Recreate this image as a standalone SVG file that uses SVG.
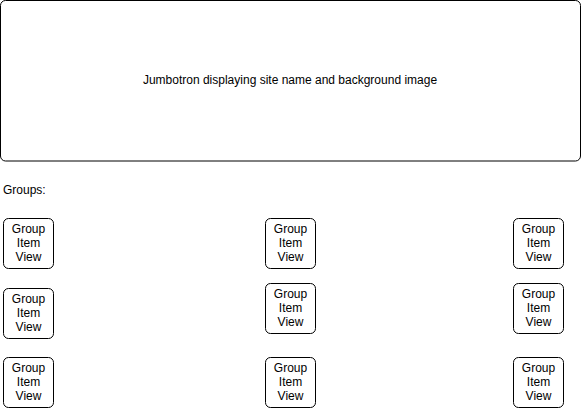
<svg xmlns="http://www.w3.org/2000/svg" width="581" height="408" viewBox="0 0 581 408">
<style>
.box{fill:#fff;stroke:#000;stroke-width:1}
text{font-family:Helvetica,"Liberation Sans",Arial,sans-serif;font-size:12px;fill:#000}
.c{text-anchor:middle}
</style>
<rect width="581" height="408" fill="#fff"/>
<g id="jumbotron">
<rect class="box" x="0.5" y="0.5" width="580" height="160.5" rx="5" ry="5"/>
<text class="c" x="290" y="84">Jumbotron displaying site name and background image</text>
</g>
<g id="groups-label"><text x="3" y="194">Groups:</text></g>
<defs>
<g id="item">
<rect class="box" x="0.5" y="0.5" width="50" height="50" rx="5" ry="5"/>
<text class="c" x="25.5" y="15">Group</text>
<text class="c" x="25.5" y="29">Item</text>
<text class="c" x="25.5" y="43">View</text>
</g>
</defs>
<g id="item-1-1"><use href="#item" x="3" y="218"/></g>
<g id="item-1-2"><use href="#item" x="265" y="218"/></g>
<g id="item-1-3"><use href="#item" x="513" y="218"/></g>
<g id="item-2-1"><use href="#item" x="3" y="288"/></g>
<g id="item-2-2"><use href="#item" x="265" y="283"/></g>
<g id="item-2-3"><use href="#item" x="513" y="283"/></g>
<g id="item-3-1"><use href="#item" x="3" y="357"/></g>
<g id="item-3-2"><use href="#item" x="265" y="357"/></g>
<g id="item-3-3"><use href="#item" x="513" y="357"/></g>
<g id="connectors"></g>
</svg>
